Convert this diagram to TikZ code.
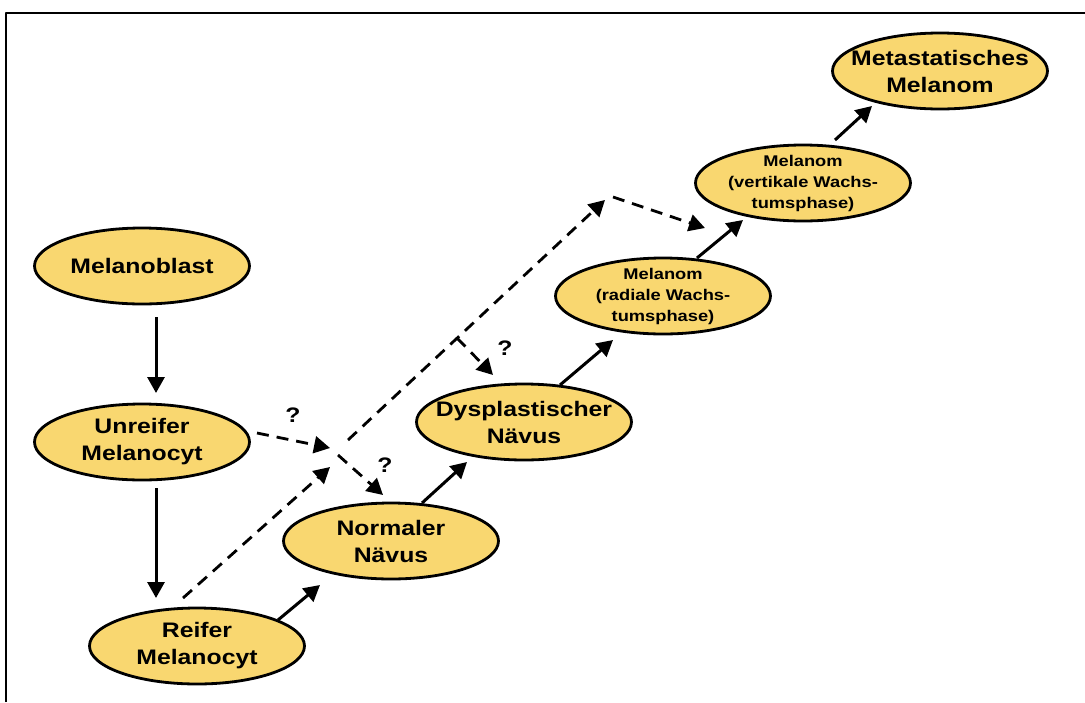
\documentclass[tikz,border=0pt]{standalone}
\usepackage{fontspec}
\newfontfamily\labelfont[FakeStretch=1.18]{Liberation Sans}
\usetikzlibrary{shapes.geometric,arrows.meta}
\definecolor{gelb}{RGB}{249,215,112}
\begin{document}
\begin{tikzpicture}[x=1pt,y=-1pt,line join=round,>={Triangle[length=16pt,width=17pt]}]
\tikzset{stufe/.style={ellipse,draw,line width=2.8pt,fill=gelb,minimum width=215pt,minimum height=76pt,inner sep=-20pt,align=center,font=\labelfont\bfseries\fontsize{21}{27}\selectfont},
  klein/.style={font=\labelfont\bfseries\fontsize{15.5}{21}\selectfont},
  pfeil/.style={->,line width=3pt},
  vermutet/.style={->,line width=2.8pt,dash pattern=on 12pt off 8pt},
  frage/.style={font=\labelfont\bfseries\fontsize{21}{24}\selectfont}}
\useasboundingbox (0,0) rectangle (1085,702);
\draw[line width=2.2pt] (6,702) -- (6,13) -- (1085,13);
% Stufen
\node[stufe] (mb) at (142,266) {Melanoblast};
\node[stufe] (um) at (142,442) {Unreifer\\Melanocyt};
\node[stufe] (rm) at (197,646) {Reifer\\Melanocyt};
\node[stufe] (nn) at (391,541) {Normaler\\Nävus};
\node[stufe] (dn) at (524,422) {Dysplastischer\\Nävus};
\node[stufe,klein] (mr) at (663,296) {Melanom\\(radiale Wachs-\\tumsphase)};
\node[stufe,klein] (mv) at (803,183) {Melanom\\(vertikale Wachs-\\tumsphase)};
\node[stufe] (mm) at (940,71) {Metastatisches\\Melanom};
% sichere Wege
\draw[pfeil] ([shift={(14pt,-51pt)}]mb.center) -- ([shift={(14pt,49pt)}]um.center);
\draw[pfeil] ([shift={(14pt,-46pt)}]um.center) -- ([shift={(-41pt,48pt)}]rm.center);
\draw[pfeil] ([shift={(81pt,26pt)}]rm.center) -- ([shift={(-71pt,-44pt)}]nn.center);
\draw[pfeil] ([shift={(31pt,38pt)}]nn.center) -- ([shift={(-57pt,-40pt)}]dn.center);
\draw[pfeil] ([shift={(36pt,37pt)}]dn.center) -- ([shift={(-50pt,-44pt)}]mr.center);
\draw[pfeil] ([shift={(34pt,38pt)}]mr.center) -- ([shift={(-60pt,-37pt)}]mv.center);
\draw[pfeil] ([shift={(32pt,43pt)}]mv.center) -- ([shift={(-68pt,-35pt)}]mm.center);
% unsichere Wege
\coordinate (k1) at (330,467);
\coordinate (k2) at (348,440);
\coordinate (k3) at (330,448);
\coordinate (k4) at (338,455);
\coordinate (k5) at (457,338);
\coordinate (p1) at (605,200);
\coordinate (p2) at (613,197);
\draw[vermutet] ([shift={(-14pt,48pt)}]rm.center) -- (k1);
\draw[vermutet] (k2) -- (p1);
\draw[vermutet] (p2) -- ([shift={(-98pt,-45pt)}]mv.center);
\draw[vermutet] ([shift={(115pt,9pt)}]um.center) -- (k3);
\draw[vermutet] (k4) -- ([shift={(-8pt,46pt)}]nn.center);
\draw[vermutet] (k5) -- ([shift={(-31pt,47pt)}]dn.center);
\node[frage] (q1) at (293,415) {?};
\node[frage] (q2) at (385,465) {?};
\node[frage] (q3) at (505,348) {?};
\end{tikzpicture}
\end{document}
